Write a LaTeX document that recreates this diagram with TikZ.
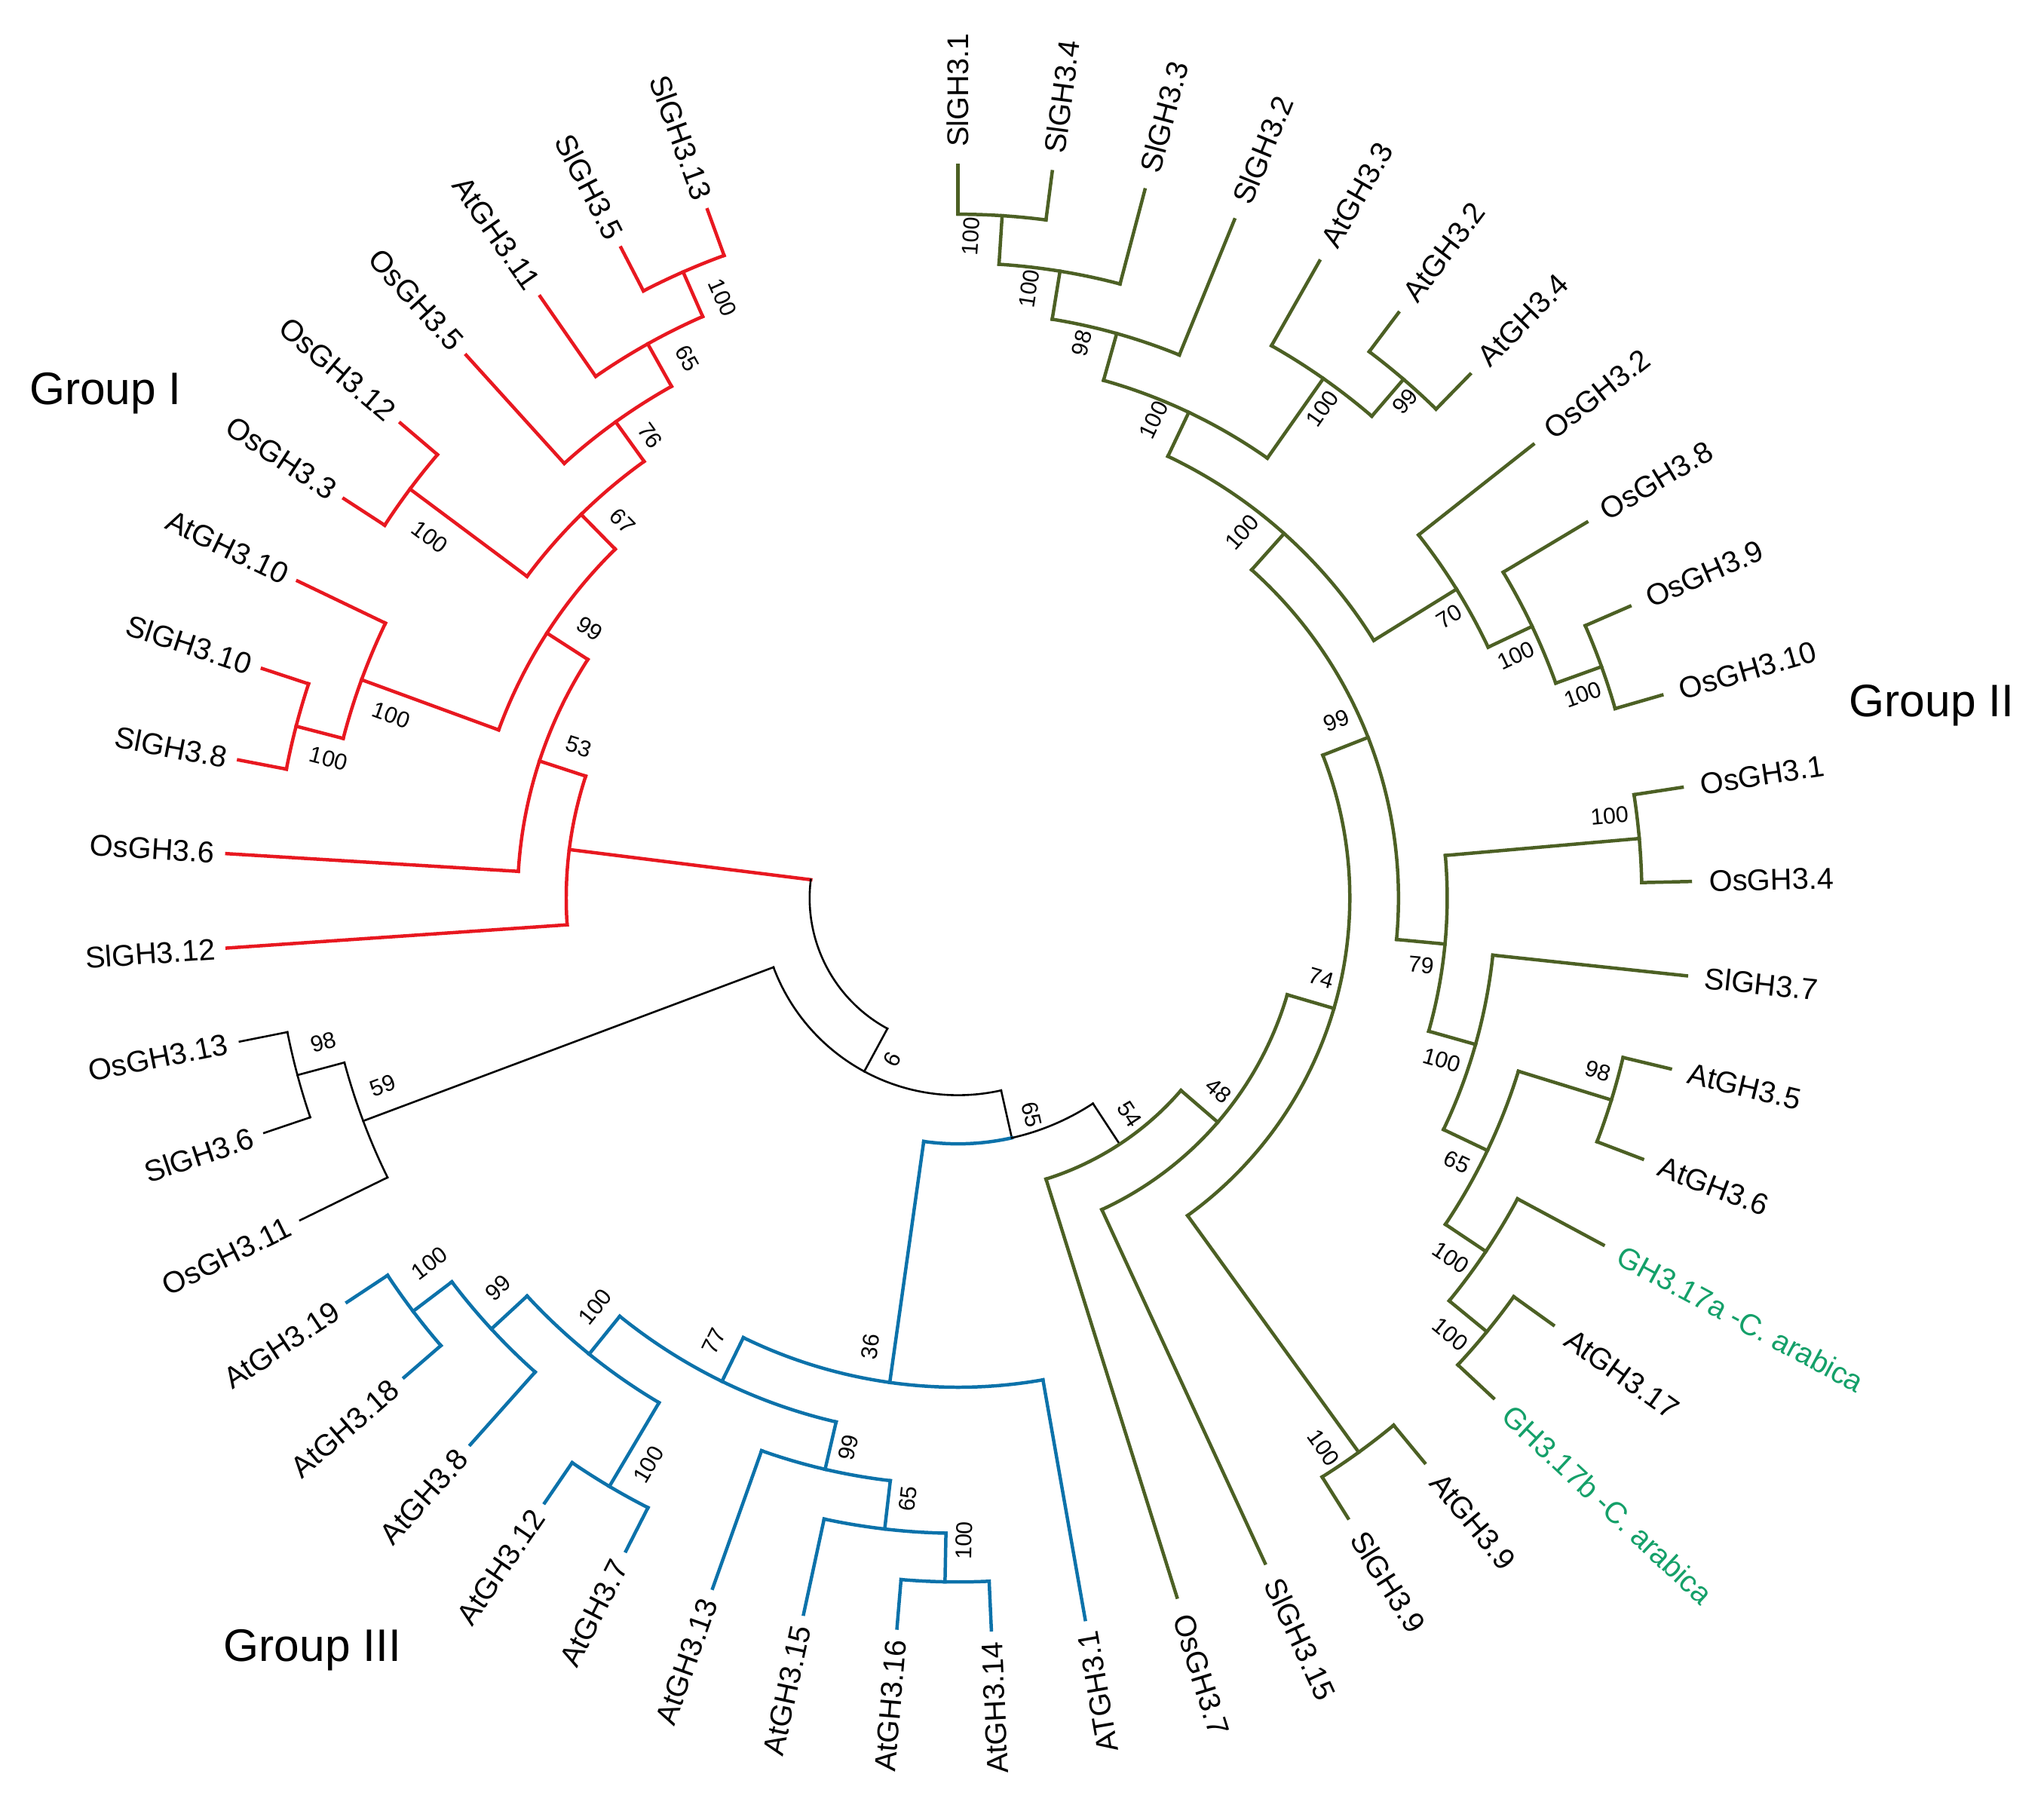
\documentclass[tikz,border=0pt]{standalone}
\usepackage{fontspec}
\newfontfamily\lsans{Liberation Sans}
\definecolor{cRed}{RGB}{232,24,32}
\definecolor{cBlue}{RGB}{12,114,170}
\definecolor{cOlive}{RGB}{76,96,36}
\definecolor{cTeal}{RGB}{20,160,105}
\newcommand\tipfont{\lsans\fontsize{23}{27}\selectfont}
\newcommand\bsfont{\lsans\fontsize{17.5}{20}\selectfont}
\newcommand\grpfont{\lsans\fontsize{35}{40}\selectfont}
% #1 name, #2 angle, #3 radius, #4 parent radius, #5 style
\newcommand\TBranch[5]{%
  \coordinate (#1) at (#2:#3);
  \coordinate (#1-b) at (#2:#4);
  \draw[#5] (#1-b) -- (#1);}
% #1 first child, #2 start angle, #3 end angle, #4 radius, #5 style
\newcommand\TArc[5]{%
  \draw[#5] (#1-b) arc[start angle=#2, end angle=#3, radius=#4pt];}
% tips: #1 name, #2 angle, #3 parent radius, #4 style, #5 text, #6 colour
\newcommand\TipR[6]{%
  \TBranch{#1}{#2}{562.8}{#3}{#4}
  \node[tiplab,text=#6,anchor=west,rotate=#2] (#1-l) at (#2:577) {#5};}
\newcommand\TipL[6]{%
  \TBranch{#1}{#2}{562.8}{#3}{#4}
  \node[tiplab,text=#6,anchor=east,rotate=#2+180] (#1-l) at (#2:572) {#5};}
\newcommand\Boot[5]{\node[bslab,rotate=#4] (#1) at (#2,#3) {#5};}
\begin{document}
\begin{tikzpicture}[x=1pt,y=1pt,
  gI/.style={draw=cRed,line width=2.6pt,line cap=rect},
  gII/.style={draw=cOlive,line width=2.6pt,line cap=rect},
  gIII/.style={draw=cBlue,line width=2.6pt,line cap=rect},
  gO/.style={draw=black,line width=1.5pt,line cap=rect},
  tiplab/.style={font=\tipfont,inner sep=0pt},
  bslab/.style={font=\bsfont,inner sep=0pt},
  grp/.style={font=\grpfont,inner sep=0pt}]
\fill[white] (-736,-708) rectangle (832,690);
\useasboundingbox (-736,-708) rectangle (832,690);

% ---------- internal branches ----------
\TBranch{G1}{172.88}{301.0}{114}{gI}
\TBranch{X}{241.59}{151.4}{114}{gO}
\TBranch{G2}{161.86}{338.4}{301.0}{gI}
\TBranch{G3}{147.19}{375.8}{338.4}{gI}
\TBranch{G4}{134.49}{413.2}{375.8}{gI}
\TBranch{A6}{159.89}{488.0}{375.8}{gI}
\TBranch{A3}{125.71}{450.6}{413.2}{gI}
\TBranch{A4}{143.26}{525.4}{413.2}{gI}
\TBranch{A2}{119.24}{488.0}{450.6}{gI}
\TBranch{A1}{113.70}{525.4}{488.0}{gI}
\TBranch{A5}{165.44}{525.4}{488.0}{gI}
\TBranch{B2}{200.54}{488.0}{151.4}{gO}
\TBranch{Y}{282.64}{188.8}{151.4}{gO}
\TBranch{B1}{195.00}{525.4}{488.0}{gO}
\TBranch{C9}{261.98}{375.8}{188.8}{gIII}
\TBranch{Z}{303.30}{226.2}{188.8}{gO}
\TBranch{C8}{243.97}{413.2}{375.8}{gIII}
\TBranch{C4}{231.03}{450.6}{413.2}{gIII}
\TBranch{C7}{256.90}{450.6}{413.2}{gIII}
\TBranch{C2}{222.72}{488.0}{450.6}{gIII}
\TBranch{C3}{239.35}{525.4}{450.6}{gIII}
\TBranch{C1}{217.17}{525.4}{488.0}{gIII}
\TBranch{C6}{263.37}{488.0}{450.6}{gIII}
\TBranch{C5}{268.91}{525.4}{488.0}{gIII}
\TBranch{W}{319.21}{263.6}{226.2}{gII}
\TBranch{V}{343.64}{301.0}{263.6}{gII}
\TBranch{U}{305.87}{525.4}{301.0}{gII}
\TBranch{D18}{381.40}{338.4}{301.0}{gII}
\TBranch{D17}{354.61}{375.8}{338.4}{gII}
\TBranch{D10}{408.19}{375.8}{338.4}{gII}
\TBranch{D16}{344.21}{413.2}{375.8}{gII}
\TBranch{D11}{365.00}{525.4}{375.8}{gII}
\TBranch{D15}{334.51}{450.6}{413.2}{gII}
\TBranch{D14}{326.20}{488.0}{450.6}{gII}
\TBranch{D12}{342.83}{525.4}{450.6}{gII}
\TBranch{D13}{320.65}{525.4}{488.0}{gII}
\TBranch{D9}{391.79}{450.6}{375.8}{gII}
\TBranch{D6}{424.59}{413.2}{375.8}{gII}
\TBranch{D8}{385.33}{488.0}{450.6}{gII}
\TBranch{D7}{379.78}{525.4}{488.0}{gII}
\TBranch{D5}{414.89}{488.0}{413.2}{gII}
\TBranch{D3}{434.30}{450.6}{413.2}{gII}
\TBranch{D4}{409.35}{525.4}{488.0}{gII}
\TBranch{D2}{440.76}{488.0}{450.6}{gII}
\TBranch{D1}{446.30}{525.4}{488.0}{gII}

% ---------- tips and labels ----------
\TipL{t0}{110.00}{525.4}{gI}{SlGH3.13}{black}
\TipL{t1}{117.39}{525.4}{gI}{SlGH3.5}{black}
\TipL{t2}{124.78}{488.0}{gI}{AtGH3.11}{black}
\TipL{t3}{132.17}{450.6}{gI}{OsGH3.5}{black}
\TipL{t4}{139.57}{525.4}{gI}{OsGH3.12}{black}
\TipL{t5}{146.96}{525.4}{gI}{OsGH3.3}{black}
\TipL{t6}{154.35}{488.0}{gI}{AtGH3.10}{black}
\TipL{t7}{161.74}{525.4}{gI}{SlGH3.10}{black}
\TipL{t8}{169.13}{525.4}{gI}{SlGH3.8}{black}
\TipL{t9}{176.52}{338.4}{gI}{OsGH3.6}{black}
\TipL{t10}{183.91}{301.0}{gI}{SlGH3.12}{black}
\TipL{t11}{191.30}{525.4}{gO}{OsGH3.13}{black}
\TipL{t12}{198.70}{525.4}{gO}{SlGH3.6}{black}
\TipL{t13}{206.09}{488.0}{gO}{OsGH3.11}{black}
\TipL{t14}{213.48}{525.4}{gIII}{AtGH3.19}{black}
\TipL{t15}{220.87}{525.4}{gIII}{AtGH3.18}{black}
\TipL{t16}{228.26}{488.0}{gIII}{AtGH3.8}{black}
\TipL{t17}{235.65}{525.4}{gIII}{AtGH3.12}{black}
\TipL{t18}{243.04}{525.4}{gIII}{AtGH3.7}{black}
\TipL{t19}{250.43}{450.6}{gIII}{AtGH3.13}{black}
\TipL{t20}{257.83}{488.0}{gIII}{AtGH3.15}{black}
\TipL{t21}{265.22}{525.4}{gIII}{AtGH3.16}{black}
\TipL{t22}{272.61}{525.4}{gIII}{AtGH3.14}{black}
\TipL{t23}{280.00}{375.8}{gIII}{ATGH3.1}{black}
\TipR{t24}{287.39}{226.2}{gII}{OsGH3.7}{black}
\TipR{t25}{294.78}{263.6}{gII}{SlGH3.15}{black}
\TipR{t26}{302.17}{525.4}{gII}{SlGH3.9}{black}
\TipR{t27}{309.57}{525.4}{gII}{AtGH3.9}{black}
\TipR{t28}{316.96}{525.4}{gII}{GH3.17b -C. arabica}{cTeal}
\TipR{t29}{324.35}{525.4}{gII}{AtGH3.17}{black}
\TipR{t30}{331.74}{488.0}{gII}{GH3.17a -C. arabica}{cTeal}
\TipR{t31}{339.13}{525.4}{gII}{AtGH3.6}{black}
\TipR{t32}{346.52}{525.4}{gII}{AtGH3.5}{black}
\TipR{t33}{353.91}{413.2}{gII}{SlGH3.7}{black}
\TipR{t34}{361.30}{525.4}{gII}{OsGH3.4}{black}
\TipR{t35}{368.70}{525.4}{gII}{OsGH3.1}{black}
\TipR{t36}{376.09}{525.4}{gII}{OsGH3.10}{black}
\TipR{t37}{383.48}{525.4}{gII}{OsGH3.9}{black}
\TipR{t38}{390.87}{488.0}{gII}{OsGH3.8}{black}
\TipR{t39}{398.26}{450.6}{gII}{OsGH3.2}{black}
\TipR{t40}{405.65}{525.4}{gII}{AtGH3.4}{black}
\TipR{t41}{413.04}{525.4}{gII}{AtGH3.2}{black}
\TipR{t42}{420.43}{488.0}{gII}{AtGH3.3}{black}
\TipR{t43}{427.83}{450.6}{gII}{SlGH3.2}{black}
\TipR{t44}{435.22}{488.0}{gII}{SlGH3.3}{black}
\TipR{t45}{442.61}{525.4}{gII}{SlGH3.4}{black}
\TipR{t46}{450.00}{525.4}{gII}{SlGH3.1}{black}

% ---------- arcs ----------
\TArc{G1}{172.88}{241.59}{114}{gO}
\TArc{G2}{161.86}{183.91}{301.0}{gI}
\TArc{G3}{147.19}{176.52}{338.4}{gI}
\TArc{G4}{134.49}{159.89}{375.8}{gI}
\TArc{A3}{125.71}{143.26}{413.2}{gI}
\TArc{A2}{119.24}{132.17}{450.6}{gI}
\TArc{A1}{113.70}{124.78}{488.0}{gI}
\TArc{t0}{110.00}{117.39}{525.4}{gI}
\TArc{t4}{139.57}{146.96}{525.4}{gI}
\TArc{t6}{154.35}{165.44}{488.0}{gI}
\TArc{t7}{161.74}{169.13}{525.4}{gI}
\TArc{B2}{200.54}{282.64}{151.4}{gO}
\TArc{B1}{195.00}{206.09}{488.0}{gO}
\TArc{t11}{191.30}{198.70}{525.4}{gO}
\TArc{C9}{261.98}{282.64}{188.8}{gIII}
\draw[gO] (Y) arc[start angle=282.64, end angle=303.30, radius=188.8pt];
\TArc{C8}{243.97}{280.00}{375.8}{gIII}
\TArc{C4}{231.03}{256.90}{413.2}{gIII}
\TArc{C2}{222.72}{239.35}{450.6}{gIII}
\TArc{C1}{217.17}{228.26}{488.0}{gIII}
\TArc{t14}{213.48}{220.87}{525.4}{gIII}
\TArc{t17}{235.65}{243.04}{525.4}{gIII}
\TArc{t19}{250.43}{263.37}{450.6}{gIII}
\TArc{t20}{257.83}{268.91}{488.0}{gIII}
\TArc{t21}{265.22}{272.61}{525.4}{gIII}
\TArc{t24}{287.39}{319.21}{226.2}{gII}
\TArc{t25}{294.78}{343.64}{263.6}{gII}
\TArc{U}{305.87}{381.40}{301.0}{gII}
\TArc{t26}{302.17}{309.57}{525.4}{gII}
\TArc{D17}{354.61}{408.19}{338.4}{gII}
\TArc{D16}{344.21}{365.00}{375.8}{gII}
\TArc{t34}{361.30}{368.70}{525.4}{gII}
\TArc{D15}{334.51}{353.91}{413.2}{gII}
\TArc{D14}{326.20}{342.83}{450.6}{gII}
\TArc{t31}{339.13}{346.52}{525.4}{gII}
\TArc{D13}{320.65}{331.74}{488.0}{gII}
\TArc{t28}{316.96}{324.35}{525.4}{gII}
\TArc{D9}{391.79}{424.59}{375.8}{gII}
\TArc{D8}{385.33}{398.26}{450.6}{gII}
\TArc{D7}{379.78}{390.87}{488.0}{gII}
\TArc{t36}{376.09}{383.48}{525.4}{gII}
\TArc{D5}{414.89}{434.30}{413.2}{gII}
\TArc{D4}{409.35}{420.43}{488.0}{gII}
\TArc{t40}{405.65}{413.04}{525.4}{gII}
\TArc{t43}{427.83}{440.76}{450.6}{gII}
\TArc{t44}{435.22}{446.30}{488.0}{gII}
\TArc{t45}{442.61}{450.00}{525.4}{gII}

% ---------- bootstrap values ----------
\Boot{bA1}{-180.8}{461.3}{-66.3}{100}
\Boot{bA2}{-207.7}{414.8}{-60.76}{65}
\Boot{bA3}{-236.5}{355.3}{-54.29}{76}
\Boot{bG4}{-257.7}{289.4}{-45.51}{67}
\Boot{bA4}{-405.6}{277.7}{-36.74}{100}
\Boot{bG3}{-283.1}{206.9}{-32.81}{99}
\Boot{bA6}{-435.5}{140.4}{-20.11}{100}
\Boot{bA5}{-483.5}{107.2}{-14.56}{100}
\Boot{bG2}{-291.5}{116.4}{-18.14}{53}
\Boot{bB1}{-487.6}{-110.8}{15.0}{98}
\Boot{bB2}{-441.7}{-144.0}{20.54}{59}
\Boot{bX}{-50.5}{-124.2}{61.59}{6}
\Boot{bY}{56.8}{-166.3}{-77.36}{65}
\Boot{bZ}{131.8}{-166.3}{-56.70}{54}
\Boot{bC1}{-406}{-280.5}{37.17}{100}
\Boot{bC2}{-353.2}{-299.5}{42.72}{99}
\Boot{bC4}{-278.8}{-314.1}{51.03}{100}
\Boot{bC8}{-187.5}{-340.3}{63.97}{77}
\Boot{bC9}{-67.5}{-344.7}{81.98}{36}
\Boot{bC3}{-237.9}{-435.2}{59.35}{100}
\Boot{bC7}{-84.3}{-422.0}{76.90}{99}
\Boot{bC6}{-38.7}{-461.4}{83.37}{65}
\Boot{bC5}{4.6}{-493.5}{88.91}{100}
\Boot{bD1}{10.1}{508.5}{86.30}{100}
\Boot{bD2}{54.7}{468.2}{80.76}{100}
\Boot{bD3}{95.0}{426.4}{74.30}{98}
\Boot{bD6}{150.3}{367.3}{64.59}{100}
\Boot{bD5}{279.8}{376.0}{54.89}{100}
\Boot{bD4}{343.5}{381.7}{49.35}{99}
\Boot{bD10}{218.2}{280.9}{48.19}{100}
\Boot{bD9}{377.5}{216.3}{31.79}{70}
\Boot{bD8}{428.7}{186.4}{25.33}{100}
\Boot{bD7}{480.0}{156.4}{19.78}{100}
\Boot{bD18}{290.8}{136.5}{21.40}{99}
\Boot{bD11}{500.5}{63.3}{5.00}{100}
\Boot{bD17}{355.8}{-51.4}{-5.39}{79}
\Boot{bV}{279.0}{-61.3}{-16.36}{74}
\Boot{bD16}{371.6}{-124.5}{-15.79}{100}
\Boot{bD12}{491.8}{-132.8}{-17.17}{98}
\Boot{bD15}{383.4}{-202.6}{-25.49}{65}
\Boot{bD14}{378.4}{-276.3}{-33.80}{100}
\Boot{bD13}{378.4}{-335.1}{-39.35}{100}
\Boot{bU}{280.8}{-422.3}{-54.13}{100}
\Boot{bW}{200}{-148}{-40.79}{48}

% ---------- group titles ----------
\node[grp] (grpI) at (-655,388) {Group I};
\node[grp] (grpII) at (748,148) {Group II};
\node[grp] (grpIII) at (-496,-578) {Group III};
\end{tikzpicture}
\end{document}
